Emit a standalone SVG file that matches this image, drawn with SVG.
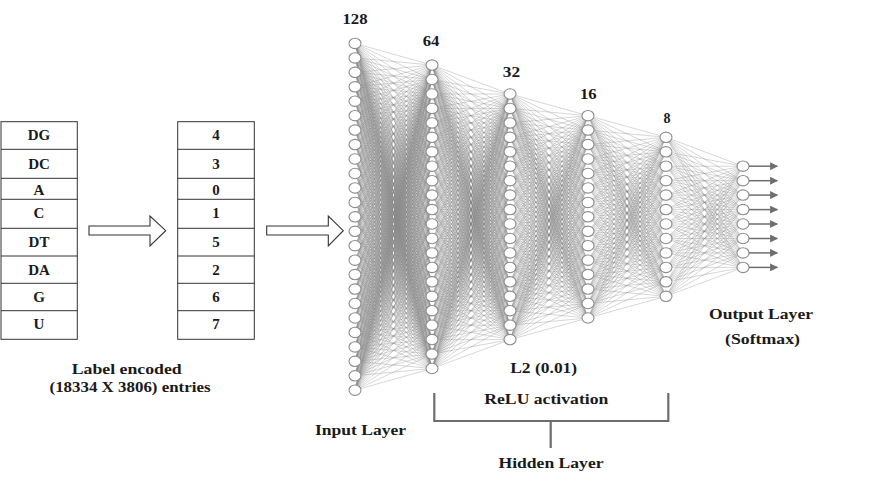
<svg xmlns="http://www.w3.org/2000/svg" width="889" height="480" viewBox="0 0 889 480">
<style>
text{font-family:"Liberation Serif","Times New Roman",serif;font-weight:bold;fill:#1a1a1a;text-anchor:middle}
.t{font-size:15px}
.h{font-size:14px}
.tab{fill:#fff;stroke:#333;stroke-width:1}
.sep{stroke:#333;stroke-width:1}
.blk{fill:#fff;stroke:#333;stroke-width:1.1}
.w{fill:none;stroke:#858585;stroke-width:0.6;stroke-opacity:0.55;vector-effect:non-scaling-stroke}
.nodes use{fill:#fff;stroke:#8c8c8c;stroke-width:1.1}
.out{stroke:#6e6e6e;stroke-width:1.5;fill:none}
.br{stroke:#6e6e6e;stroke-width:2.2;fill:none}
</style>
<defs>
<ellipse id="nd" cx="0" cy="0" rx="6" ry="5.2"/>
<marker id="ah" viewBox="0 0 10 10" refX="9" refY="5" markerWidth="8" markerHeight="8" markerUnits="userSpaceOnUse" orient="auto">
<path d="M0 0L10 5L0 10z" fill="#6e6e6e"/>
</marker>
<path id="f1" class="w" d="M355 216.8L432 65.1M355 216.8L432 79.5M355 216.8L432 94M355 216.8L432 108.4M355 216.8L432 122.9M355 216.8L432 137.3M355 216.8L432 151.8M355 216.8L432 166.2M355 216.8L432 180.7M355 216.8L432 195.1M355 216.8L432 209.6M355 216.8L432 224M355 216.8L432 238.5M355 216.8L432 252.9M355 216.8L432 267.4M355 216.8L432 281.8M355 216.8L432 296.3M355 216.8L432 310.7M355 216.8L432 325.2M355 216.8L432 339.6M355 216.8L432 354.1M355 216.8L432 368.5"/>
<path id="f2" class="w" d="M432 216.8L510 94M432 216.8L510 108.4M432 216.8L510 122.9M432 216.8L510 137.3M432 216.8L510 151.8M432 216.8L510 166.2M432 216.8L510 180.7M432 216.8L510 195.1M432 216.8L510 209.6M432 216.8L510 224M432 216.8L510 238.5M432 216.8L510 252.9M432 216.8L510 267.4M432 216.8L510 281.8M432 216.8L510 296.3M432 216.8L510 310.7M432 216.8L510 325.2M432 216.8L510 339.6"/>
<path id="f3" class="w" d="M510 216.8L588 115.7M510 216.8L588 130.1M510 216.8L588 144.6M510 216.8L588 159M510 216.8L588 173.5M510 216.8L588 187.9M510 216.8L588 202.4M510 216.8L588 216.8M510 216.8L588 231.3M510 216.8L588 245.7M510 216.8L588 260.2M510 216.8L588 274.6M510 216.8L588 289.1M510 216.8L588 303.5M510 216.8L588 318"/>
<path id="f4" class="w" d="M588 216.8L666 137.3M588 216.8L666 151.8M588 216.8L666 166.2M588 216.8L666 180.7M588 216.8L666 195.1M588 216.8L666 209.6M588 216.8L666 224M588 216.8L666 238.5M588 216.8L666 252.9M588 216.8L666 267.4M588 216.8L666 281.8M588 216.8L666 296.3"/>
<path id="f5" class="w" d="M666 216.8L743 166.2M666 216.8L743 180.7M666 216.8L743 195.1M666 216.8L743 209.6M666 216.8L743 224M666 216.8L743 238.5M666 216.8L743 252.9M666 216.8L743 267.4"/>
</defs>

<g id="table-labels">
<rect class="tab" x="1" y="121.7" width="76.3" height="217.6"/>
<path class="sep" d="M1 149.3H77.3M1 178.3H77.3M1 199.3H77.3M1 228.3H77.3M1 256H77.3M1 283.3H77.3M1 310.7H77.3"/>
<text class="t" x="39" y="140">DG</text>
<text class="t" x="39" y="169.3">DC</text>
<text class="t" x="39" y="195">A</text>
<text class="t" x="39" y="218.3">C</text>
<text class="t" x="39" y="246.7">DT</text>
<text class="t" x="39" y="275">DA</text>
<text class="t" x="39" y="301.7">G</text>
<text class="t" x="39" y="329.3">U</text>
</g>

<g id="table-encoded">
<rect class="tab" x="177.7" y="121.7" width="76.6" height="217.6"/>
<path class="sep" d="M177.7 149.3H254.3M177.7 178.3H254.3M177.7 199.3H254.3M177.7 228.3H254.3M177.7 256H254.3M177.7 283.3H254.3M177.7 310.7H254.3"/>
<text class="t" x="216" y="140">4</text>
<text class="t" x="216" y="169.3">3</text>
<text class="t" x="216" y="195">0</text>
<text class="t" x="216" y="218.3">1</text>
<text class="t" x="216" y="246.7">5</text>
<text class="t" x="216" y="275">2</text>
<text class="t" x="216" y="301.7">6</text>
<text class="t" x="216" y="329.3">7</text>
</g>

<g id="caption-encoded">
<text class="t" x="126.7" y="374" textLength="110" lengthAdjust="spacingAndGlyphs">Label encoded</text>
<text class="t" x="130" y="392" textLength="161" lengthAdjust="spacingAndGlyphs">(18334 X 3806) entries</text>
</g>

<g id="block-arrows">
<polygon class="blk" points="89,226 150,226 150,216 165.7,230.7 150,246 150,235 89,235"/>
<polygon class="blk" points="266.7,226 328.3,226 328.3,216 343.3,230.7 328.3,246 328.3,235 266.7,235"/>
</g>

<g id="connectors">
<use href="#f1" transform="matrix(1 2.25195 0 1 0 -972.842)"/>
<use href="#f1" transform="matrix(1 2.06429 0 1 0 -891.771)"/>
<use href="#f1" transform="matrix(1 1.87662 0 1 0 -810.701)"/>
<use href="#f1" transform="matrix(1 1.68896 0 1 0 -729.631)"/>
<use href="#f1" transform="matrix(1 1.5013 0 1 0 -648.561)"/>
<use href="#f1" transform="matrix(1 1.31364 0 1 0 -567.491)"/>
<use href="#f1" transform="matrix(1 1.12597 0 1 0 -486.421)"/>
<use href="#f1" transform="matrix(1 0.93831 0 1 0 -405.351)"/>
<use href="#f1" transform="matrix(1 0.75065 0 1 0 -324.281)"/>
<use href="#f1" transform="matrix(1 0.56299 0 1 0 -243.21)"/>
<use href="#f1" transform="matrix(1 0.37532 0 1 0 -162.14)"/>
<use href="#f1" transform="matrix(1 0.18766 0 1 0 -81.07)"/>
<use href="#f1"/>
<use href="#f1" transform="matrix(1 -0.18766 0 1 0 81.07)"/>
<use href="#f1" transform="matrix(1 -0.37532 0 1 0 162.14)"/>
<use href="#f1" transform="matrix(1 -0.56299 0 1 0 243.21)"/>
<use href="#f1" transform="matrix(1 -0.75065 0 1 0 324.281)"/>
<use href="#f1" transform="matrix(1 -0.93831 0 1 0 405.351)"/>
<use href="#f1" transform="matrix(1 -1.12597 0 1 0 486.421)"/>
<use href="#f1" transform="matrix(1 -1.31364 0 1 0 567.491)"/>
<use href="#f1" transform="matrix(1 -1.5013 0 1 0 648.561)"/>
<use href="#f1" transform="matrix(1 -1.68896 0 1 0 729.631)"/>
<use href="#f1" transform="matrix(1 -1.87662 0 1 0 810.701)"/>
<use href="#f1" transform="matrix(1 -2.06429 0 1 0 891.771)"/>
<use href="#f1" transform="matrix(1 -2.25195 0 1 0 972.842)"/>

<use href="#f2" transform="matrix(1 1.94519 0 1 0 -992.048)"/>
<use href="#f2" transform="matrix(1 1.75994 0 1 0 -897.568)"/>
<use href="#f2" transform="matrix(1 1.57468 0 1 0 -803.087)"/>
<use href="#f2" transform="matrix(1 1.38942 0 1 0 -708.606)"/>
<use href="#f2" transform="matrix(1 1.20417 0 1 0 -614.125)"/>
<use href="#f2" transform="matrix(1 1.01891 0 1 0 -519.644)"/>
<use href="#f2" transform="matrix(1 0.83365 0 1 0 -425.164)"/>
<use href="#f2" transform="matrix(1 0.6484 0 1 0 -330.683)"/>
<use href="#f2" transform="matrix(1 0.46314 0 1 0 -236.202)"/>
<use href="#f2" transform="matrix(1 0.27788 0 1 0 -141.721)"/>
<use href="#f2" transform="matrix(1 0.09263 0 1 0 -47.24)"/>
<use href="#f2" transform="matrix(1 -0.09263 0 1 0 47.24)"/>
<use href="#f2" transform="matrix(1 -0.27788 0 1 0 141.721)"/>
<use href="#f2" transform="matrix(1 -0.46314 0 1 0 236.202)"/>
<use href="#f2" transform="matrix(1 -0.6484 0 1 0 330.683)"/>
<use href="#f2" transform="matrix(1 -0.83365 0 1 0 425.164)"/>
<use href="#f2" transform="matrix(1 -1.01891 0 1 0 519.644)"/>
<use href="#f2" transform="matrix(1 -1.20417 0 1 0 614.125)"/>
<use href="#f2" transform="matrix(1 -1.38942 0 1 0 708.606)"/>
<use href="#f2" transform="matrix(1 -1.57468 0 1 0 803.087)"/>
<use href="#f2" transform="matrix(1 -1.75994 0 1 0 897.568)"/>
<use href="#f2" transform="matrix(1 -1.94519 0 1 0 992.048)"/>

<use href="#f3" transform="matrix(1 1.57468 0 1 0 -925.912)"/>
<use href="#f3" transform="matrix(1 1.38942 0 1 0 -816.981)"/>
<use href="#f3" transform="matrix(1 1.20417 0 1 0 -708.05)"/>
<use href="#f3" transform="matrix(1 1.01891 0 1 0 -599.119)"/>
<use href="#f3" transform="matrix(1 0.83365 0 1 0 -490.189)"/>
<use href="#f3" transform="matrix(1 0.6484 0 1 0 -381.258)"/>
<use href="#f3" transform="matrix(1 0.46314 0 1 0 -272.327)"/>
<use href="#f3" transform="matrix(1 0.27788 0 1 0 -163.396)"/>
<use href="#f3" transform="matrix(1 0.09263 0 1 0 -54.465)"/>
<use href="#f3" transform="matrix(1 -0.09263 0 1 0 54.465)"/>
<use href="#f3" transform="matrix(1 -0.27788 0 1 0 163.396)"/>
<use href="#f3" transform="matrix(1 -0.46314 0 1 0 272.327)"/>
<use href="#f3" transform="matrix(1 -0.6484 0 1 0 381.258)"/>
<use href="#f3" transform="matrix(1 -0.83365 0 1 0 490.189)"/>
<use href="#f3" transform="matrix(1 -1.01891 0 1 0 599.119)"/>
<use href="#f3" transform="matrix(1 -1.20417 0 1 0 708.05)"/>
<use href="#f3" transform="matrix(1 -1.38942 0 1 0 816.981)"/>
<use href="#f3" transform="matrix(1 -1.57468 0 1 0 925.912)"/>

<use href="#f4" transform="matrix(1 1.29679 0 1 0 -863.666)"/>
<use href="#f4" transform="matrix(1 1.11154 0 1 0 -740.285)"/>
<use href="#f4" transform="matrix(1 0.92628 0 1 0 -616.904)"/>
<use href="#f4" transform="matrix(1 0.74103 0 1 0 -493.523)"/>
<use href="#f4" transform="matrix(1 0.55577 0 1 0 -370.142)"/>
<use href="#f4" transform="matrix(1 0.37051 0 1 0 -246.762)"/>
<use href="#f4" transform="matrix(1 0.18526 0 1 0 -123.381)"/>
<use href="#f4"/>
<use href="#f4" transform="matrix(1 -0.18526 0 1 0 123.381)"/>
<use href="#f4" transform="matrix(1 -0.37051 0 1 0 246.762)"/>
<use href="#f4" transform="matrix(1 -0.55577 0 1 0 370.142)"/>
<use href="#f4" transform="matrix(1 -0.74103 0 1 0 493.523)"/>
<use href="#f4" transform="matrix(1 -0.92628 0 1 0 616.904)"/>
<use href="#f4" transform="matrix(1 -1.11154 0 1 0 740.285)"/>
<use href="#f4" transform="matrix(1 -1.29679 0 1 0 863.666)"/>

<use href="#f5" transform="matrix(1 1.03214 0 1 0 -766.882)"/>
<use href="#f5" transform="matrix(1 0.84448 0 1 0 -627.449)"/>
<use href="#f5" transform="matrix(1 0.65682 0 1 0 -488.016)"/>
<use href="#f5" transform="matrix(1 0.46916 0 1 0 -348.583)"/>
<use href="#f5" transform="matrix(1 0.28149 0 1 0 -209.15)"/>
<use href="#f5" transform="matrix(1 0.09383 0 1 0 -69.717)"/>
<use href="#f5" transform="matrix(1 -0.09383 0 1 0 69.717)"/>
<use href="#f5" transform="matrix(1 -0.28149 0 1 0 209.15)"/>
<use href="#f5" transform="matrix(1 -0.46916 0 1 0 348.583)"/>
<use href="#f5" transform="matrix(1 -0.65682 0 1 0 488.016)"/>
<use href="#f5" transform="matrix(1 -0.84448 0 1 0 627.449)"/>
<use href="#f5" transform="matrix(1 -1.03214 0 1 0 766.882)"/>
</g>

<g id="input-layer" class="nodes" transform="translate(355 0)">
<use href="#nd" y="43.4"/><use href="#nd" y="57.9"/><use href="#nd" y="72.3"/><use href="#nd" y="86.8"/><use href="#nd" y="101.2"/><use href="#nd" y="115.7"/><use href="#nd" y="130.1"/><use href="#nd" y="144.6"/><use href="#nd" y="159"/><use href="#nd" y="173.5"/><use href="#nd" y="187.9"/><use href="#nd" y="202.4"/><use href="#nd" y="216.8"/><use href="#nd" y="231.3"/><use href="#nd" y="245.7"/><use href="#nd" y="260.2"/><use href="#nd" y="274.6"/><use href="#nd" y="289.1"/><use href="#nd" y="303.5"/><use href="#nd" y="318"/><use href="#nd" y="332.4"/><use href="#nd" y="346.9"/><use href="#nd" y="361.3"/><use href="#nd" y="375.8"/><use href="#nd" y="390.2"/>
</g>
<g id="hidden-64" class="nodes" transform="translate(432 0)">
<use href="#nd" y="65.1"/><use href="#nd" y="79.5"/><use href="#nd" y="94"/><use href="#nd" y="108.4"/><use href="#nd" y="122.9"/><use href="#nd" y="137.3"/><use href="#nd" y="151.8"/><use href="#nd" y="166.2"/><use href="#nd" y="180.7"/><use href="#nd" y="195.1"/><use href="#nd" y="209.6"/><use href="#nd" y="224"/><use href="#nd" y="238.5"/><use href="#nd" y="252.9"/><use href="#nd" y="267.4"/><use href="#nd" y="281.8"/><use href="#nd" y="296.3"/><use href="#nd" y="310.7"/><use href="#nd" y="325.2"/><use href="#nd" y="339.6"/><use href="#nd" y="354.1"/><use href="#nd" y="368.5"/>
</g>
<g id="hidden-32" class="nodes" transform="translate(510 0)">
<use href="#nd" y="94"/><use href="#nd" y="108.4"/><use href="#nd" y="122.9"/><use href="#nd" y="137.3"/><use href="#nd" y="151.8"/><use href="#nd" y="166.2"/><use href="#nd" y="180.7"/><use href="#nd" y="195.1"/><use href="#nd" y="209.6"/><use href="#nd" y="224"/><use href="#nd" y="238.5"/><use href="#nd" y="252.9"/><use href="#nd" y="267.4"/><use href="#nd" y="281.8"/><use href="#nd" y="296.3"/><use href="#nd" y="310.7"/><use href="#nd" y="325.2"/><use href="#nd" y="339.6"/>
</g>
<g id="hidden-16" class="nodes" transform="translate(588 0)">
<use href="#nd" y="115.7"/><use href="#nd" y="130.1"/><use href="#nd" y="144.6"/><use href="#nd" y="159"/><use href="#nd" y="173.5"/><use href="#nd" y="187.9"/><use href="#nd" y="202.4"/><use href="#nd" y="216.8"/><use href="#nd" y="231.3"/><use href="#nd" y="245.7"/><use href="#nd" y="260.2"/><use href="#nd" y="274.6"/><use href="#nd" y="289.1"/><use href="#nd" y="303.5"/><use href="#nd" y="318"/>
</g>
<g id="hidden-8" class="nodes" transform="translate(666 0)">
<use href="#nd" y="137.3"/><use href="#nd" y="151.8"/><use href="#nd" y="166.2"/><use href="#nd" y="180.7"/><use href="#nd" y="195.1"/><use href="#nd" y="209.6"/><use href="#nd" y="224"/><use href="#nd" y="238.5"/><use href="#nd" y="252.9"/><use href="#nd" y="267.4"/><use href="#nd" y="281.8"/><use href="#nd" y="296.3"/>
</g>
<g id="output-layer" class="nodes" transform="translate(743 0)">
<use href="#nd" y="166.2"/><use href="#nd" y="180.7"/><use href="#nd" y="195.1"/><use href="#nd" y="209.6"/><use href="#nd" y="224"/><use href="#nd" y="238.5"/><use href="#nd" y="252.9"/><use href="#nd" y="267.4"/>
</g>

<g id="output-arrows" class="out" marker-end="url(#ah)">
<path d="M749 166.2H777.3"/><path d="M749 180.7H777.3"/><path d="M749 195.1H777.3"/><path d="M749 209.6H777.3"/><path d="M749 224H777.3"/><path d="M749 238.5H777.3"/><path d="M749 252.9H777.3"/><path d="M749 267.4H777.3"/>
</g>

<g id="layer-sizes">
<text class="h" x="355" y="24.3" textLength="25" lengthAdjust="spacingAndGlyphs">128</text>
<text class="h" x="431" y="45.7" textLength="16.7" lengthAdjust="spacingAndGlyphs">64</text>
<text class="h" x="511.5" y="77.3" textLength="17.3" lengthAdjust="spacingAndGlyphs">32</text>
<text class="h" x="588.3" y="98.7" textLength="16.7" lengthAdjust="spacingAndGlyphs">16</text>
<text class="h" x="667" y="122.7">8</text>
</g>

<g id="hidden-bracket">
<path class="br" d="M434.3 393V421H668.3V393M550.7 421V448"/>
<text class="t" x="543.7" y="373.3" textLength="67" lengthAdjust="spacingAndGlyphs">L2 (0.01)</text>
<text class="t" x="546.3" y="404" textLength="124" lengthAdjust="spacingAndGlyphs">ReLU activation</text>
<text class="t" x="551" y="467.7" textLength="105" lengthAdjust="spacingAndGlyphs">Hidden Layer</text>
</g>

<g id="layer-captions">
<text class="t" x="360.5" y="435" textLength="91" lengthAdjust="spacingAndGlyphs">Input Layer</text>
<text class="t" x="761" y="319" textLength="104" lengthAdjust="spacingAndGlyphs">Output Layer</text>
<text class="t" x="762.5" y="344.3" textLength="75" lengthAdjust="spacingAndGlyphs">(Softmax)</text>
</g>
</svg>
